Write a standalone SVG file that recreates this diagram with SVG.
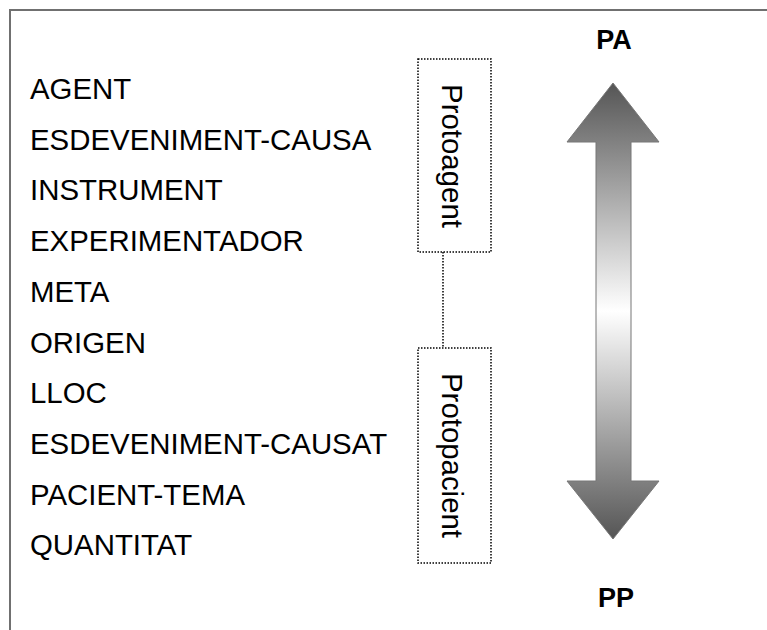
<svg xmlns="http://www.w3.org/2000/svg" width="767" height="630" viewBox="0 0 767 630">
<defs>
<style>
.lbl{font-family:"Liberation Sans",Arial,sans-serif;font-size:29.4px;fill:#000}
.big{font-family:"Liberation Sans",Arial,sans-serif;font-size:27px;font-weight:bold;fill:#000;text-anchor:middle}
.dot{fill:none;stroke:#000;stroke-width:1.5;stroke-dasharray:1.5 1.5}
</style>
<linearGradient id="g" x1="0" y1="83" x2="0" y2="539" gradientUnits="userSpaceOnUse">
<stop offset="0" stop-color="#555"/>
<stop offset="0.5" stop-color="#fff"/>
<stop offset="1" stop-color="#555"/>
</linearGradient>
</defs>
<rect x="0" y="0" width="767" height="630" fill="#fff"/>
<rect x="10" y="10" width="800" height="700" fill="none" stroke="#707070" stroke-width="2"/>
<g id="roles">
<text class="lbl" x="30" y="99">AGENT</text>
<text class="lbl" x="30" y="149.7">ESDEVENIMENT-CAUSA</text>
<text class="lbl" x="30" y="200.4">INSTRUMENT</text>
<text class="lbl" x="30" y="251.1">EXPERIMENTADOR</text>
<text class="lbl" x="30" y="301.8">META</text>
<text class="lbl" x="30" y="352.5">ORIGEN</text>
<text class="lbl" x="30" y="403.2">LLOC</text>
<text class="lbl" x="30" y="453.9">ESDEVENIMENT-CAUSAT</text>
<text class="lbl" x="30" y="504.6">PACIENT-TEMA</text>
<text class="lbl" x="30" y="555.3">QUANTITAT</text>
</g>
<g id="connectors">
<line class="dot" x1="443" y1="252" x2="443" y2="348"/>
</g>
<g id="protoagent">
<rect class="dot" x="418" y="59" width="73" height="193"/>
<text class="lbl" text-anchor="middle" transform="translate(442,156) rotate(90)">Protoagent</text>
</g>
<g id="protopacient">
<rect class="dot" x="418" y="348" width="73" height="215"/>
<text class="lbl" text-anchor="middle" transform="translate(442,455.5) rotate(90)">Protopacient</text>
</g>
<g id="arrow">
<path d="M613,83 L659,142 L631,142 L631,481 L659,481 L613,539 L567,481 L596,481 L596,142 L567,142 Z" fill="url(#g)" stroke="#777" stroke-width="1"/>
</g>
<text class="big" x="614" y="49">PA</text>
<text class="big" x="616" y="607">PP</text>
</svg>
